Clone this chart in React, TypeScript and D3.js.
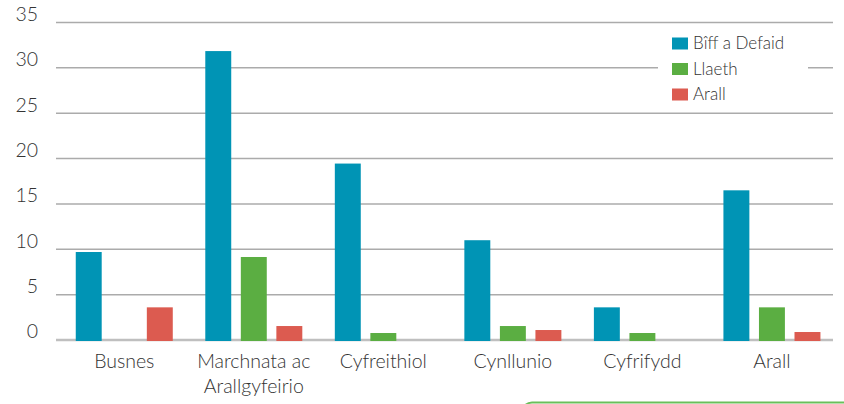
import React from "react";
import * as d3 from "d3";

const categories = ["Busnes", "Marchnata ac\nArallgyfeirio", "Cyfreithiol", "Cynllunio", "Cyfrifydd", "Arall"];
const seriesNames = ["Bîff a Defaid", "Llaeth", "Arall"];
const beefSheep = [9.7, 31.85, 19.45, 11.0, 3.6, 16.5];
const dairy = [0, 9.15, 0.77, 1.54, 0.77, 3.6];
const other = [3.6, 1.54, 0, 1.1, 0, 0.88];
const yTicks = [0, 5, 10, 15, 20, 25, 30, 35];
const colors = ["#0094b5", "#5bae42", "#dc5b50"];

const W = 844;
const H = 404;
const FONT = "Lato, 'Open Sans', sans-serif";

export default function App() {
  const seriesValues = [beefSheep, dairy, other];
  const x = d3.scaleBand<string>().domain(categories).range([59.5, 836.7]).paddingInner(0.251).paddingOuter(0.1255);
  const xi = d3.scaleBand<string>().domain(seriesNames).range([0, x.bandwidth()]).paddingInner(0.27).paddingOuter(0);
  const y = d3.scaleLinear().domain([0, 35]).range([340, 22.5]);
  const gridX0 = 56;
  const gridX1 = 833;

  return (
    <svg width={W} height={H} style={{ position: "absolute", left: 0, top: 0, display: "block", background: "#fff" }}>
      <rect x={0} y={0} width={W} height={H} fill="#fff" />
      {yTicks.map((t) => (
        <g key={t}>
          <line
            x1={gridX0}
            x2={gridX1}
            y1={y(t)}
            y2={y(t)}
            stroke={t === 0 ? "#bfbfbf" : "#ababab"}
            strokeWidth={t === 0 ? 2.5 : 1.5}
          />
          <text
            x={38}
            y={y(t) - 6.5}
            textAnchor="end"
            dominantBaseline="middle"
            fontFamily={FONT}
            fontWeight={300}
            fontSize={19.5}
            fill="#333"
          >
            {t}
          </text>
        </g>
      ))}
      {/* legend background */}
      <rect x={658} y={30} width={150} height={76} fill="#fff" />
      {categories.map((c, ci) => (
        <g key={c} transform={`translate(${x(c)},0)`}>
          {seriesNames.map((s, si) => {
            const v = seriesValues[si][ci];
            if (v <= 0) return null;
            return (
              <rect
                key={s}
                x={xi(s)}
                y={y(v)}
                width={xi.bandwidth()}
                height={y(0) - y(v) + 1}
                fill={colors[si]}
              />
            );
          })}
        </g>
      ))}
      {categories.map((c) => {
        const lines = c.split("\n");
        return (
          <text
            key={c}
            x={(x(c) as number) + x.bandwidth() / 2}
            y={368}
            textAnchor="middle"
            fontFamily={FONT}
            fontWeight={300}
            fontSize={19.5}
            fill="#333"
          >
            {lines.map((l, i) => (
              <tspan key={i} x={(x(c) as number) + x.bandwidth() / 2} dy={i === 0 ? 0 : 25}>
                {l}
              </tspan>
            ))}
          </text>
        );
      })}
      {seriesNames.map((s, i) => (
        <g key={s} transform={`translate(672,${49 + i * 25.5})`}>
          <rect x={0} y={-11.5} width={16} height={12} fill={colors[i]} />
          <text x={21} y={0} fontFamily={FONT} fontWeight={300} fontSize={17} fill="#333">
            {s}
          </text>
        </g>
      ))}
      <rect x={522} y={402.5} width={360} height={60} rx={10} fill="none" stroke="#6abf5a" strokeWidth={2} />
    </svg>
  );
}
